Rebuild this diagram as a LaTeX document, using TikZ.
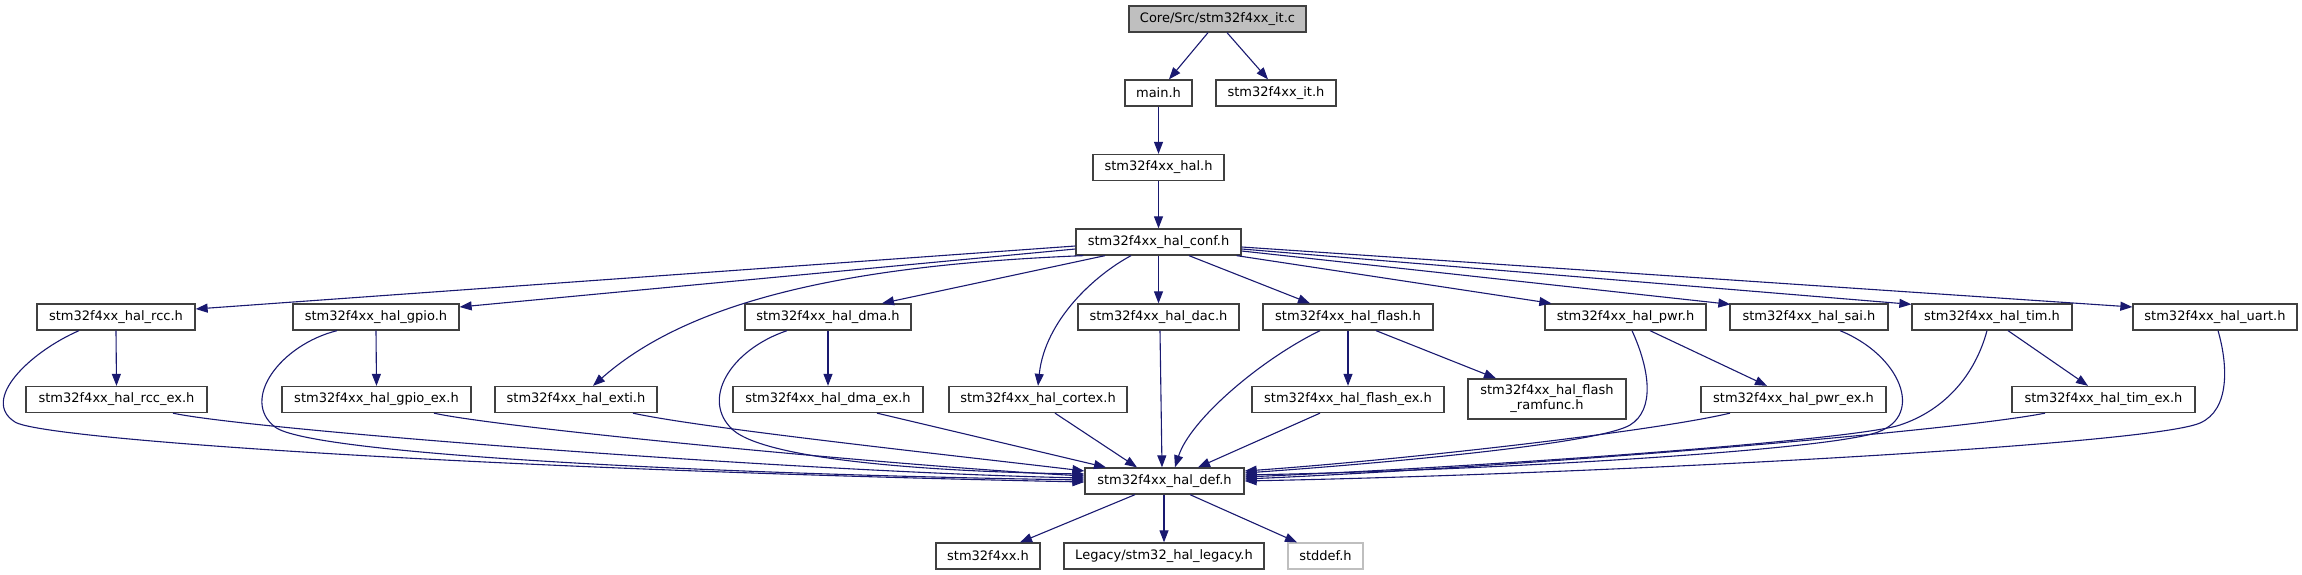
\documentclass[tikz,border=0pt]{standalone}
\usepackage{fontspec}
\setmainfont{DejaVu Sans}
\usetikzlibrary{arrows.meta,calc}
\definecolor{edgeblue}{RGB}{25,25,112}
\definecolor{boxline}{RGB}{64,64,64}
\definecolor{greyfill}{RGB}{191,191,191}
\begin{document}
\begin{tikzpicture}[x=1pt,y=-1pt,
  filebox/.style={draw=boxline,line width=1.3pt,fill=white,inner sep=0pt,minimum height=26pt,
    font=\fontsize{13}{15}\selectfont,text=black,anchor=center,align=center},
  rootbox/.style={filebox,fill=greyfill},
  extbox/.style={filebox,draw=greyfill},
  dep/.style={draw=edgeblue,line width=1.1pt,-{Triangle[length=12pt,width=9pt]}}]
\useasboundingbox (0,0) rectangle (2302,575);
% row 0-3
\node[rootbox,minimum width=177pt] (core) at (1217.5,19) {Core/Src/stm32f4xx\_it.c};
\node[filebox,minimum width=67pt] (main) at (1158.5,93) {main.h};
\node[filebox,minimum width=120pt] (ith) at (1276,93) {stm32f4xx\_it.h};
\node[filebox,minimum width=131pt] (hal) at (1158.5,167.5) {stm32f4xx\_hal.h};
\node[filebox,minimum width=165pt] (conf) at (1158.5,242) {stm32f4xx\_hal\_conf.h};
% row 4
\node[filebox,minimum width=158pt] (rcc) at (116,317) {stm32f4xx\_hal\_rcc.h};
\node[filebox,minimum width=166pt] (gpio) at (376,317) {stm32f4xx\_hal\_gpio.h};
\node[filebox,minimum width=166pt] (dma) at (828,317) {stm32f4xx\_hal\_dma.h};
\node[filebox,minimum width=161pt] (dac) at (1158.5,317) {stm32f4xx\_hal\_dac.h};
\node[filebox,minimum width=170pt] (flash) at (1348,317) {stm32f4xx\_hal\_flash.h};
\node[filebox,minimum width=161pt] (pwr) at (1625.5,317) {stm32f4xx\_hal\_pwr.h};
\node[filebox,minimum width=158pt] (sai) at (1809,317) {stm32f4xx\_hal\_sai.h};
\node[filebox,minimum width=160pt] (tim) at (1992,317) {stm32f4xx\_hal\_tim.h};
\node[filebox,minimum width=164pt] (uart) at (2215,317) {stm32f4xx\_hal\_uart.h};
% row 5
\node[filebox,minimum width=181pt] (rccex) at (116.5,399.5) {stm32f4xx\_hal\_rcc\_ex.h};
\node[filebox,minimum width=189pt] (gpioex) at (376.5,399.5) {stm32f4xx\_hal\_gpio\_ex.h};
\node[filebox,minimum width=162pt] (exti) at (576,399.5) {stm32f4xx\_hal\_exti.h};
\node[filebox,minimum width=190pt] (dmaex) at (828,399.5) {stm32f4xx\_hal\_dma\_ex.h};
\node[filebox,minimum width=178pt] (cortex) at (1038,399.5) {stm32f4xx\_hal\_cortex.h};
\node[filebox,minimum width=192pt] (flashex) at (1348,399.5) {stm32f4xx\_hal\_flash\_ex.h};
\node[filebox,minimum width=158pt,minimum height=40pt] (ramfunc) at (1547,399) {stm32f4xx\_hal\_flash\\\_ramfunc.h};
\node[filebox,minimum width=185pt] (pwrex) at (1793.5,399.5) {stm32f4xx\_hal\_pwr\_ex.h};
\node[filebox,minimum width=183pt] (timex) at (2103.5,399.5) {stm32f4xx\_hal\_tim\_ex.h};
% row 6-7
\node[filebox,minimum width=159pt] (def) at (1164.5,481) {stm32f4xx\_hal\_def.h};
\node[filebox,minimum width=104pt] (f4xx) at (988,556) {stm32f4xx.h};
\node[filebox,minimum width=200pt] (legacy) at (1164,556) {Legacy/stm32\_hal\_legacy.h};
\node[extbox,minimum width=75pt] (stddef) at (1325.5,556) {stddef.h};
% top edges
\draw[dep] ($(core.south)+(-9.5,0)$) -- ($(main.north)+(10.5,0)$);
\draw[dep] ($(core.south)+(9.5,0)$) -- ($(ith.north)+(-8,0)$);
\draw[dep] (main.south) -- (hal.north);
\draw[dep] (hal.south) -- (conf.north);
% conf fan-out
\draw[dep] ($(conf.west)+(0,4)$) -- ($(rcc.east)+(0,-8)$);
\draw[dep] ($(conf.west)+(0,7)$) -- ($(gpio.east)+(0,-10)$);
\draw[dep] ($(conf.south west)+(8,0)$) .. controls (850,265) and (690,300) .. ($(exti.north)+(17,0)$);
\draw[dep] ($(conf.south)+(-53.5,0)$) -- ($(dma.north)+(54,0)$);
\draw[dep] ($(conf.south)+(-27.5,0)$) .. controls (1095,275) and (1045,320) .. (cortex.north);
\draw[dep] (conf.south) -- (dac.north);
\draw[dep] ($(conf.south)+(30.5,0)$) -- ($(flash.north)+(-38,0)$);
\draw[dep] ($(conf.south east)+(-5,0)$) -- ($(pwr.north west)+(7,0)$);
\draw[dep] ($(conf.east)+(0,9)$) -- ($(sai.north west)+(1,1)$);
\draw[dep] ($(conf.east)+(0,7)$) -- ($(tim.north west)+(0,1)$);
\draw[dep] ($(conf.east)+(0,5)$) -- ($(uart.west)+(0,-10)$);
% row 4 to row 5
\draw[dep] (rcc.south) -- (rccex.north);
\draw[dep] (gpio.south) -- (gpioex.north);
\draw[dep] (dma.south) -- (dmaex.north);
\draw[dep] (flash.south) -- (flashex.north);
\draw[dep] ($(flash.south)+(28,0)$) -- ($(ramfunc.north)+(-51,0)$);
\draw[dep] ($(pwr.south)+(24.5,0)$) -- ($(pwrex.north)+(-26.5,0)$);
\draw[dep] ($(tim.south)+(16,0)$) -- ($(timex.north)+(-15.5,0)$);
% into def, left side
\draw[dep] ($(rcc.south)+(-37,0)$) .. controls (30,352) and (-20,400) .. (15,422)
  .. controls (43,440) and (500,470) .. ($(def.west)+(0,1)$);
\draw[dep] ($(gpio.south)+(-39,0)$) .. controls (280,345) and (240,400) .. (275,427)
  .. controls (310,454) and (700,474) .. ($(def.west)+(0,-1)$);
\draw[dep] ($(dma.south)+(-41,0)$) .. controls (730,350) and (700,400) .. (733,430)
  .. controls (770,462) and (950,472) .. ($(def.west)+(0,-7)$);
\draw[dep] ($(rccex.south)+(56.5,0)$) .. controls (250,430) and (800,472) .. ($(def.west)+(0,-3)$);
\draw[dep] ($(gpioex.south)+(57.5,0)$) .. controls (500,428) and (900,466) .. ($(def.west)+(0,-5)$);
\draw[dep] ($(exti.south)+(57,0)$) .. controls (700,428) and (950,455) .. ($(def.west)+(0,-10)$);
% into def, top
\draw[dep] ($(dmaex.south)+(49,0)$) -- ($(def.north)+(-58.5,0)$);
\draw[dep] ($(cortex.south)+(17,0)$) -- ($(def.north)+(-27.5,0)$);
\draw[dep] ($(dac.south)+(1.5,0)$) -- ($(def.north)+(-2.5,0)$);
\draw[dep] ($(flash.south)+(-28,0)$) .. controls (1260,360) and (1190,420) .. ($(def.north)+(10.5,0)$);
\draw[dep] ($(flashex.south)+(-28,0)$) -- ($(def.north)+(33.5,0)$);
% into def, right side
\draw[dep] ($(pwr.south)+(6.5,0)$) .. controls (1650,370) and (1655,410) .. (1630,425)
  .. controls (1600,443) and (1400,462) .. ($(def.east)+(0,-8)$);
\draw[dep] ($(pwrex.south)+(-63.5,0)$) .. controls (1650,432) and (1400,460) .. ($(def.east)+(0,-10)$);
\draw[dep] ($(sai.south)+(31,0)$) .. controls (1900,355) and (1925,415) .. (1878,432)
  .. controls (1830,450) and (1500,470) .. ($(def.east)+(0,-6)$);
\draw[dep] ($(tim.south)+(-5,0)$) .. controls (1975,375) and (1945,410) .. (1900,425)
  .. controls (1855,440) and (1500,466) .. ($(def.east)+(0,-4)$);
\draw[dep] ($(timex.south)+(-58.5,0)$) .. controls (1950,432) and (1500,468) .. ($(def.east)+(0,-2)$);
\draw[dep] ($(uart.south)+(3,0)$) .. controls (2228,365) and (2230,410) .. (2200,423)
  .. controls (2150,445) and (1600,474) .. (def.east);
% out of def
\draw[dep] ($(def.south)+(-29.5,0)$) -- ($(f4xx.north)+(32,0)$);
\draw[dep] ($(def.south)+(-0.5,0)$) -- (legacy.north);
\draw[dep] ($(def.south)+(25.5,0)$) -- ($(stddef.north)+(-28.5,0)$);
\end{tikzpicture}
\end{document}
